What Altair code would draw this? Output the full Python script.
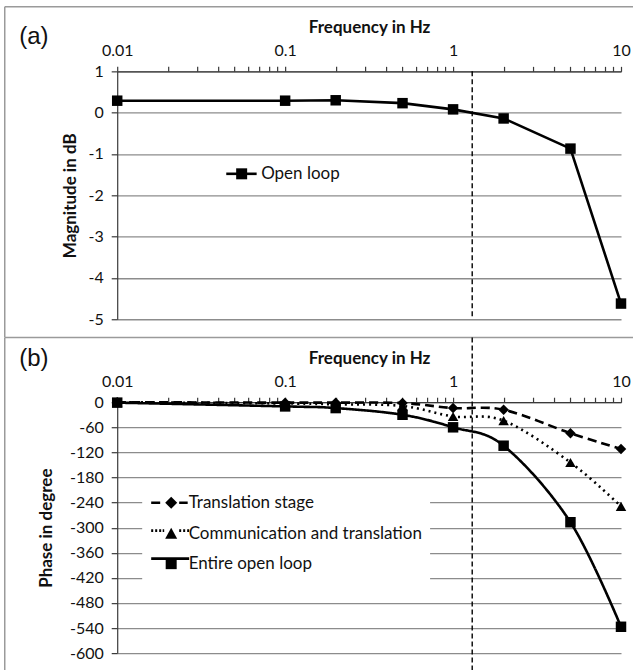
import altair as alt
import pandas as pd

# ---------------- data ----------------
freq = [0.01, 0.1, 0.2, 0.5, 1, 2, 5, 10]
magnitude_db = [0.29, 0.29, 0.30, 0.23, 0.08, -0.14, -0.87, -4.62]
series_a = ["Open loop"]

series_b = ["Translation stage", "Communication and translation", "Entire open loop"]
phase_stage = [0, -1, -1, -2, -14, -18, -74, -112]
phase_comm = [0, -3, -5, -9, -34, -44, -144, -249]
phase_open = [-1, -10, -14, -30, -60, -104, -287, -537]

cutoff_hz = [1.3]

x_ticks = [0.01, 0.02, 0.03, 0.04, 0.05, 0.06, 0.07, 0.08, 0.09,
           0.1, 0.2, 0.3, 0.4, 0.5, 0.6, 0.7, 0.8, 0.9,
           1, 2, 3, 4, 5, 6, 7, 8, 9, 10]
x_major = [0.01, 0.1, 1, 10]
x_major_labels = ["0.01", "0.1", "1", "10"]
mag_ticks = [-5, -4, -3, -2, -1, 0, 1]
phase_ticks = [-600, -540, -480, -420, -360, -300, -240, -180, -120, -60, 0]
panel_labels = ["(a)", "(b)"]

# ---------------- styling ----------------
FONT = "Lato"
W, H1, H2 = 504, 248, 251
GRID = "#8c8c8c"
AXIS = "#3a3a3a"
FRAME = "#9a9a9a"
FL, FT = -112.5, -64.7  # frame left / top, relative to each plot area

label_expr = " : ".join(
    f"datum.value == {v} ? '{t}'" for v, t in zip(x_major, x_major_labels)
) + " : ''"


def x_axis():
    return alt.Axis(
        orient="top", title="Frequency in Hz", values=x_ticks, labelExpr=label_expr,
        grid=False, tickSize=5, labelPadding=8, titlePadding=6,
        labelFlush=False, labelOverlap=False,
        labelFont=FONT, labelFontSize=16, labelColor="#111",
        titleFont=FONT, titleFontSize=17, titleFontWeight="bold", titleColor="#111",
        domainColor=AXIS, tickColor=AXIS, domainWidth=1.2, tickWidth=1.2,
    )


def y_axis(title, values, pad):
    return alt.Axis(
        title=title, values=values, grid=True, gridColor=GRID, gridWidth=1.3,
        labelExpr="'' + datum.value",
        tickSize=6, labelPadding=8, titlePadding=pad,
        labelFont=FONT, labelFontSize=16, labelColor="#111",
        titleFont=FONT, titleFontSize=17, titleFontWeight="bold", titleColor="#111",
        domainColor=AXIS, tickColor=AXIS, domainWidth=1.2, tickWidth=1.2,
    )


def legend(x, y, offset, pad, z, show_labels, fill=None):
    kw = dict(
        title=None, orient="none", legendX=x, legendY=y, zindex=z,
        symbolSize=400, symbolOpacity=1, symbolFillColor="black",
        symbolStrokeColor="black", symbolStrokeWidth=2.6,
        labelFont=FONT, labelFontSize=17, labelColor="#111", labelLimit=400,
        labelOffset=offset, padding=pad, rowPadding=8,
    )
    if not show_labels:
        kw["labelExpr"] = "''"
    if fill:
        kw["fillColor"] = fill
    return alt.Legend(**kw)


xscale = alt.Scale(type="log", domain=[0.01, 10], nice=False)
df_cut = pd.DataFrame({"freq": cutoff_hz})


def frame(h_bottom):
    top = alt.Chart(df_cut).mark_rule(color=FRAME, strokeWidth=1.5).encode(
        x=alt.value(FL), x2=alt.value(W + 12), y=alt.value(FT)
    )
    left = alt.Chart(df_cut).mark_rule(color=FRAME, strokeWidth=1.5).encode(
        x=alt.value(FL), y=alt.value(FT), y2=alt.value(h_bottom)
    )
    return top, left


def tag(text, y):
    return alt.Chart(pd.DataFrame({"t": [text]})).mark_text(
        font="Liberation Sans", fontSize=24, align="left", baseline="middle", color="#111"
    ).encode(text="t:N", x=alt.value(-98), y=alt.value(y))


def legend_layers(data, domain, marker_paths, line_paths, x, y, offset, pad, fill=None):
    """Two legends drawn on top of each other: filled markers + stroked line pieces.
    The (invisible) carrier points sit at the plot origin so they never widen the page."""
    base = alt.Chart(data).encode(x=alt.value(0), y=alt.value(0))
    filled = base.mark_point(filled=True, color="black", opacity=0, size=400).encode(
        shape=alt.Shape("series:N", scale=alt.Scale(domain=domain, range=marker_paths),
                        legend=legend(x, y, offset, pad, 1, True, fill)))
    stroked = base.mark_point(filled=False, color="black", opacity=0, size=400,
                              strokeWidth=2.6).encode(
        shape=alt.Shape("series:N", scale=alt.Scale(domain=domain, range=line_paths),
                        legend=legend(x, y, offset, pad, 2, False)))
    return filled, stroked


# ---------------- panel (a) ----------------
df_a = pd.DataFrame({"freq": freq, "mag": magnitude_db, "series": series_a * len(freq)})

base_a = alt.Chart(df_a).encode(
    x=alt.X("freq:Q", scale=xscale, axis=x_axis()),
    y=alt.Y("mag:Q", scale=alt.Scale(domain=[-5, 1], nice=False),
            axis=y_axis("Magnitude in dB", mag_ticks, 8)),
)
line_a = base_a.mark_line(color="black", strokeWidth=2.6)
pts_a = base_a.mark_point(filled=True, color="black", opacity=1, size=110, shape="square")

leg_a1, leg_a2 = legend_layers(
    df_a, series_a,
    ["M-0.55,-0.55H0.55V0.55H-0.55Z"],
    ["M-1.54,0H1.5"],
    113, 91, 8, 0)

cut_a = alt.Chart(df_cut).mark_rule(color="black", strokeWidth=1.4, strokeDash=[5, 3]).encode(
    x=alt.X("freq:Q", scale=xscale), y=alt.value(0), y2=alt.value(H1)
)
fa_top, fa_left = frame(H1 + 18)

panel_a = alt.layer(fa_top, fa_left, tag(panel_labels[0], -34), cut_a, line_a, pts_a,
                    leg_a1, leg_a2).resolve_scale(
    shape="independent"
).properties(width=W, height=H1)

# ---------------- panel (b) ----------------
rows = []
for name, vals in zip(series_b, [phase_stage, phase_comm, phase_open]):
    for f, v in zip(freq, vals):
        rows.append({"freq": f, "phase": v, "series": name})
df_b = pd.DataFrame(rows)

base_b = alt.Chart(df_b).encode(
    x=alt.X("freq:Q", scale=xscale, axis=x_axis()),
    y=alt.Y("phase:Q", scale=alt.Scale(domain=[-600, 0], nice=False),
            axis=y_axis("Phase in degree", phase_ticks, 14)),
)
line_b = base_b.mark_line(color="black", strokeWidth=2.6, interpolate="cardinal").encode(
    strokeDash=alt.StrokeDash("series:N", scale=alt.Scale(domain=series_b, range=[[9, 5], [2, 4], [1, 0]]),
                              legend=None)
)
pts_b = base_b.mark_point(filled=True, color="black", opacity=1, size=110).encode(
    shape=alt.Shape("series:N", scale=alt.Scale(domain=series_b, range=["diamond", "triangle-up", "square"]),
                    legend=None)
)
leg_b1, leg_b2 = legend_layers(
    df_b, series_b,
    ["M0.95,-0.6L1.55,0L0.95,0.6L0.35,0Z",
     "M0.95,-0.6L1.55,0.5L0.35,0.5Z",
     "M0.4,-0.55H1.5V0.55H0.4Z"],
    ["M-1.05,0H-0.15M1.75,0H2.6",
     "M-1.05,0h0.2M-0.65,0h0.2M-0.25,0h0.2M0.1,0h0.15M1.75,0h0.2M2.15,0h0.2M2.55,0h0.2",
     "M-1.05,0H2.75"],
    25, 81, 15.5, 8, "white")

BOTTOM = H2 + 17
cut_b = alt.Chart(df_cut).mark_rule(color="black", strokeWidth=1.4, strokeDash=[5, 3]).encode(
    x=alt.X("freq:Q", scale=xscale), y=alt.value(FT), y2=alt.value(BOTTOM)
)
fb_top, fb_left = frame(BOTTOM)

panel_b = alt.layer(fb_top, fb_left, tag(panel_labels[1], -43), cut_b, line_b, pts_b,
                    leg_b1, leg_b2).resolve_scale(
    shape="independent"
).properties(width=W, height=H2)

chart = alt.vconcat(panel_a, panel_b, spacing=83, bounds="flush").resolve_scale(
    x="independent", y="independent", shape="independent", strokeDash="independent"
).resolve_legend(shape="independent").properties(
    padding={"left": 3.25, "top": 5.25, "right": 0, "bottom": 0},
    background="white",
).configure_view(stroke=None)

chart.save("out.html", embed_options={"renderer": "svg", "actions": False})
